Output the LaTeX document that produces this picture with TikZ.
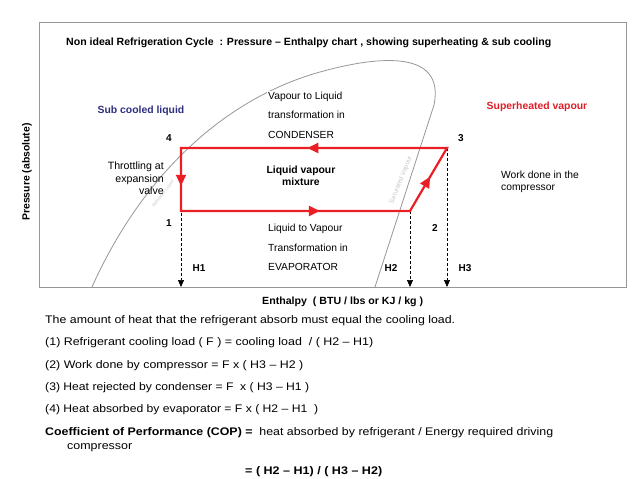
\documentclass[tikz,border=0pt]{standalone}
\usepackage{fontspec}
\setmainfont{Liberation Sans}
\usetikzlibrary{arrows.meta, decorations.markings}
\definecolor{cycred}{RGB}{234,30,36}
\definecolor{subblue}{RGB}{46,46,128}
\definecolor{hotred}{RGB}{222,30,40}
\definecolor{framegray}{RGB}{150,150,150}
% stretch a line of text to a given width, height kept
\newcommand{\fitw}[2]{\resizebox{#1}{\height}{#2}}
\tikzset{
  frm/.style   ={draw=framegray, line width=1pt},
  dome/.style  ={draw=framegray, line width=0.8pt},
  cyc/.style   ={draw=cycred, line width=2.2pt, line join=miter},
  % arrow heads sitting on the cycle
  cycarr/.style={postaction={decorate}, decoration={markings,
                 mark=at position 0.22 with {\arrow{Triangle[length=11pt,width=10pt]}},
                 mark=at position 0.426 with {\arrow{Triangle[length=11pt,width=10pt]}},
                 mark=at position 0.70 with {\arrow{Triangle[length=11pt,width=10pt]}},
                 mark=at position 0.96 with {\arrow{Triangle[length=11pt,width=10pt]}}}},
  enth/.style  ={-{Triangle[length=7pt,width=6pt]}, line width=0.7pt,
                 dash pattern=on 3pt off 2pt},
  lab/.style   ={font=\fontsize{10.3}{12}\selectfont, inner sep=0pt},
  blab/.style  ={font=\fontsize{10.4}{12}\selectfont\bfseries, inner sep=0pt},
  ptlab/.style ={font=\fontsize{10}{12}\selectfont\bfseries, inner sep=0pt},
  satlab/.style={font=\fontsize{4.5}{5}\selectfont, text=black!22, inner sep=0pt},
  ttl/.style   ={font=\fontsize{10.5}{12}\selectfont\bfseries, inner sep=0pt},
  body/.style  ={font=\fontsize{11}{13}\selectfont, inner sep=0pt, anchor=west},
}
\begin{document}
\begin{tikzpicture}[x=1pt, y=-1pt]
  \useasboundingbox (0,0) rectangle (638,479);
  % chart frame and saturation dome
  \draw[frm] (39,22) rectangle (626,287);
  \draw[dome] (92,287) .. controls (140,180) and (220,100) .. (320,72)
    .. controls (370,58) and (446,46) .. (434,105) -- (375,287);
  \node[satlab, rotate=52] (satliq) at (163,194) {Saturated Liquid};
  \node[satlab, rotate=68, font=\fontsize{6.5}{7}\selectfont] (satvap) at (401,180) {Saturated Vapour};

  % cycle corners and enthalpy feet
  \coordinate (p1) at (181,211);
  \coordinate (p2) at (410,211);
  \coordinate (p3) at (447,148);
  \coordinate (p4) at (181,148);
  \coordinate (h1) at (181,287);
  \coordinate (h2) at (410,287);
  \coordinate (h3) at (447,287);
  \draw[enth] (p4) -- (h1);
  \draw[enth] (p2) -- (h2);
  \draw[enth] (p3) -- (h3);
  \draw[cyc, cycarr] (p1) -- (p2) -- (p3) -- (p4) -- cycle;

  % labels
  \node[ttl, anchor=west] (title) at (66,43)
    {\fitw{485pt}{Non ideal Refrigeration Cycle \ : Pressure -- Enthalpy chart , showing superheating \& sub cooling}};
  \node[blab, rotate=90] (ylab) at (27,172) {Pressure (absolute)};
  \node[blab, anchor=west] (xlab) at (262,302) {\fitw{161pt}{Enthalpy \ ( BTU / lbs or KJ / kg )}};
  \node[blab, text=subblue] (subc) at (141,111) {Sub cooled liquid};
  \node[blab, text=hotred] (suph) at (537,107) {Superheated vapour};
  \node[lab, anchor=north west, align=left, fill=white, inner sep=1pt,
        font=\fontsize{10.3}{19.2}\selectfont] (cond) at (267,91)
    {Vapour to Liquid\\transformation in\\CONDENSER};
  \node[lab, anchor=north west, align=left,
        font=\fontsize{10.3}{19.5}\selectfont] (evap) at (268,224)
    {Liquid to Vapour\\Transformation in\\EVAPORATOR};
  \node[lab, anchor=north east, align=right,
        font=\fontsize{10.6}{12.5}\selectfont] (throt) at (164,162)
    {Throttling at\\expansion\\valve};
  \node[blab, anchor=north, align=center] (mix) at (301,166)
    {Liquid vapour\\mixture};
  \node[lab, anchor=north west, align=left] (work) at (501,171)
    {Work done in the\\compressor};
  \node[ptlab] (n4) at (169,138) {4};
  \node[ptlab] (n3) at (461,138) {3};
  \node[ptlab] (n1) at (169,223) {1};
  \node[ptlab] (n2) at (435,228) {2};
  \node[ptlab] (H1) at (199,268) {H1};
  \node[ptlab] (H2) at (391,268) {H2};
  \node[ptlab] (H3) at (465,268) {H3};

  % text under the chart
  \node[body] (t0) at (45,321) {\fitw{410pt}{The amount of heat that the refrigerant absorb must equal the cooling load.}};
  \node[body] (t1) at (45,343) {\fitw{328pt}{(1) Refrigerant cooling load ( F ) = cooling load \ / ( H2 -- H1)}};
  \node[body] (t2) at (45,366) {\fitw{258pt}{(2) Work done by compressor = F x ( H3 -- H2 )}};
  \node[body] (t3) at (45,388) {\fitw{264pt}{(3) Heat rejected by condenser = F \ x ( H3 -- H1 )}};
  \node[body] (t4) at (45,410) {\fitw{273pt}{(4) Heat absorbed by evaporator = F x ( H2 -- H1 \ )}};
  \node[body] (t5) at (45,433) {\fitw{508pt}{\textbf{Coefficient of Performance (COP) =} \ heat absorbed by refrigerant / Energy required driving}};
  \node[body] (t6) at (67,448) {\fitw{65pt}{compressor}};
  \node[body, font=\fontsize{11}{13}\selectfont\bfseries] (t7) at (245,472)
    {\fitw{137pt}{= ( H2 -- H1) / ( H3 -- H2)}};
\end{tikzpicture}
\end{document}
